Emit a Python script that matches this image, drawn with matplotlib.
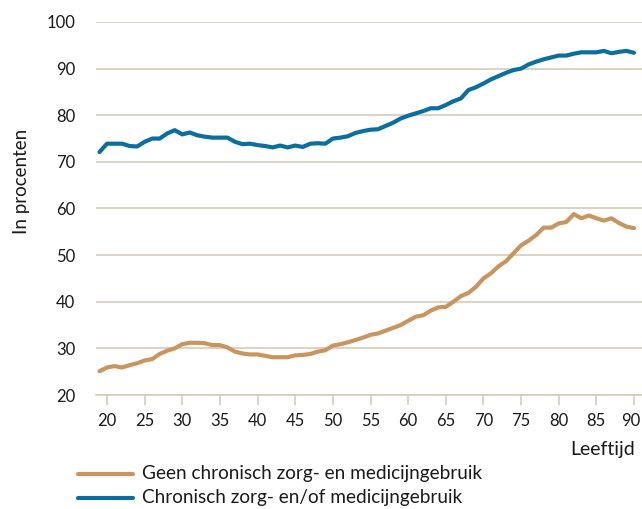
import matplotlib
matplotlib.use("Agg")
import matplotlib.pyplot as plt
from matplotlib.lines import Line2D
from matplotlib.transforms import ScaledTranslation

ages = list(range(19, 91))
geen = [25.1, 25.9, 26.2, 25.9, 26.4, 26.8, 27.4, 27.7, 28.8, 29.5,
        30.0, 30.9, 31.2, 31.2, 31.1, 30.7, 30.7, 30.2, 29.3, 28.9,
        28.7, 28.7, 28.4, 28.1, 28.1, 28.1, 28.5, 28.6, 28.8, 29.3,
        29.6, 30.6, 30.9, 31.3, 31.8, 32.3, 32.9, 33.2, 33.8, 34.4,
        35.0, 35.9, 36.8, 37.1, 38.1, 38.8, 38.9, 40.0, 41.2, 41.9,
        43.2, 45.0, 46.1, 47.6, 48.7, 50.4, 52.1, 53.1, 54.3, 55.9,
        55.9, 56.8, 57.1, 58.8, 57.9, 58.5, 57.9, 57.4, 57.9, 56.9,
        56.1, 55.8]
chronisch = [72.1, 73.9, 73.9, 73.9, 73.4, 73.3, 74.3, 75.0, 75.0, 76.1,
             76.8, 75.9, 76.3, 75.7, 75.4, 75.2, 75.2, 75.2, 74.3, 73.8,
             73.9, 73.6, 73.4, 73.1, 73.5, 73.1, 73.5, 73.2, 73.9, 74.0,
             73.9, 75.0, 75.2, 75.5, 76.2, 76.6, 76.9, 77.0, 77.7, 78.4,
             79.3, 79.9, 80.4, 80.9, 81.5, 81.5, 82.2, 83.0, 83.6, 85.4,
             86.0, 86.8, 87.7, 88.4, 89.1, 89.7, 90.0, 90.9, 91.5, 92.0,
             92.4, 92.8, 92.8, 93.2, 93.5, 93.5, 93.5, 93.8, 93.3, 93.6,
             93.8, 93.4]
xticks = list(range(20, 91, 5))
yticks = list(range(20, 101, 10))
labels = ["Geen chronisch zorg- en medicijngebruik",
          "Chronisch zorg- en/of medicijngebruik"]

TAN = "#c9955e"
BLUE = "#0a6e9e"
GRID = "#d6cbb8"
TXT = "#1a1a1a"

plt.rcParams["font.family"] = ["Lato", "DejaVu Sans"]

W, H = 642, 509
fig = plt.figure(figsize=(W / 100, H / 100), dpi=100)
ax = fig.add_axes([96 / W, 1 - 395 / H, (642 - 96) / W, (395 - 22) / H])

l1, = ax.plot(ages, geen, color=TAN, lw=3, solid_capstyle="round", solid_joinstyle="round")
l2, = ax.plot(ages, chronisch, color=BLUE, lw=3, solid_capstyle="round", solid_joinstyle="round")

ax.set_xlim(18.54, 91.06)
ax.set_ylim(20, 100)
ax.set_xticks(xticks)
ax.set_yticks(yticks)
ax.yaxis.grid(True, color=GRID, lw=1.2)
ax.set_axisbelow(True)
for s in ["top", "right", "left"]:
    ax.spines[s].set_visible(False)
ax.spines["bottom"].set_color(GRID)
ax.spines["bottom"].set_linewidth(1.2)
ax.tick_params(axis="y", length=0, pad=15, labelsize=12, labelcolor=TXT)
ax.tick_params(axis="x", length=7, width=1.2, color=GRID, pad=6, labelsize=12, labelcolor=TXT)
last = ax.get_xticklabels()[-1]
last.set_transform(last.get_transform() + ScaledTranslation(-3 / 100, 0, fig.dpi_scale_trans))

fig.text(22 / W, 1 - 181 / H, "In procenten", rotation=90, ha="center", va="center",
         fontsize=13.5, color=TXT)
fig.text(635 / W, 1 - 449 / H, "Leeftijd", ha="right", va="center", fontsize=14, color=TXT)

# legend drawn manually
for i, (line, lab) in enumerate(zip([l1, l2], labels)):
    yc = 1 - (474 + 24 * i) / H
    fig.add_artist(Line2D([78 / W, 133 / W], [yc, yc], color=line.get_color(), lw=3,
                          solid_capstyle="round", transform=fig.transFigure))
    fig.text(142 / W, yc, lab, ha="left", va="center", fontsize=13.7, color=TXT)

fig.savefig("out.png", dpi=100)
